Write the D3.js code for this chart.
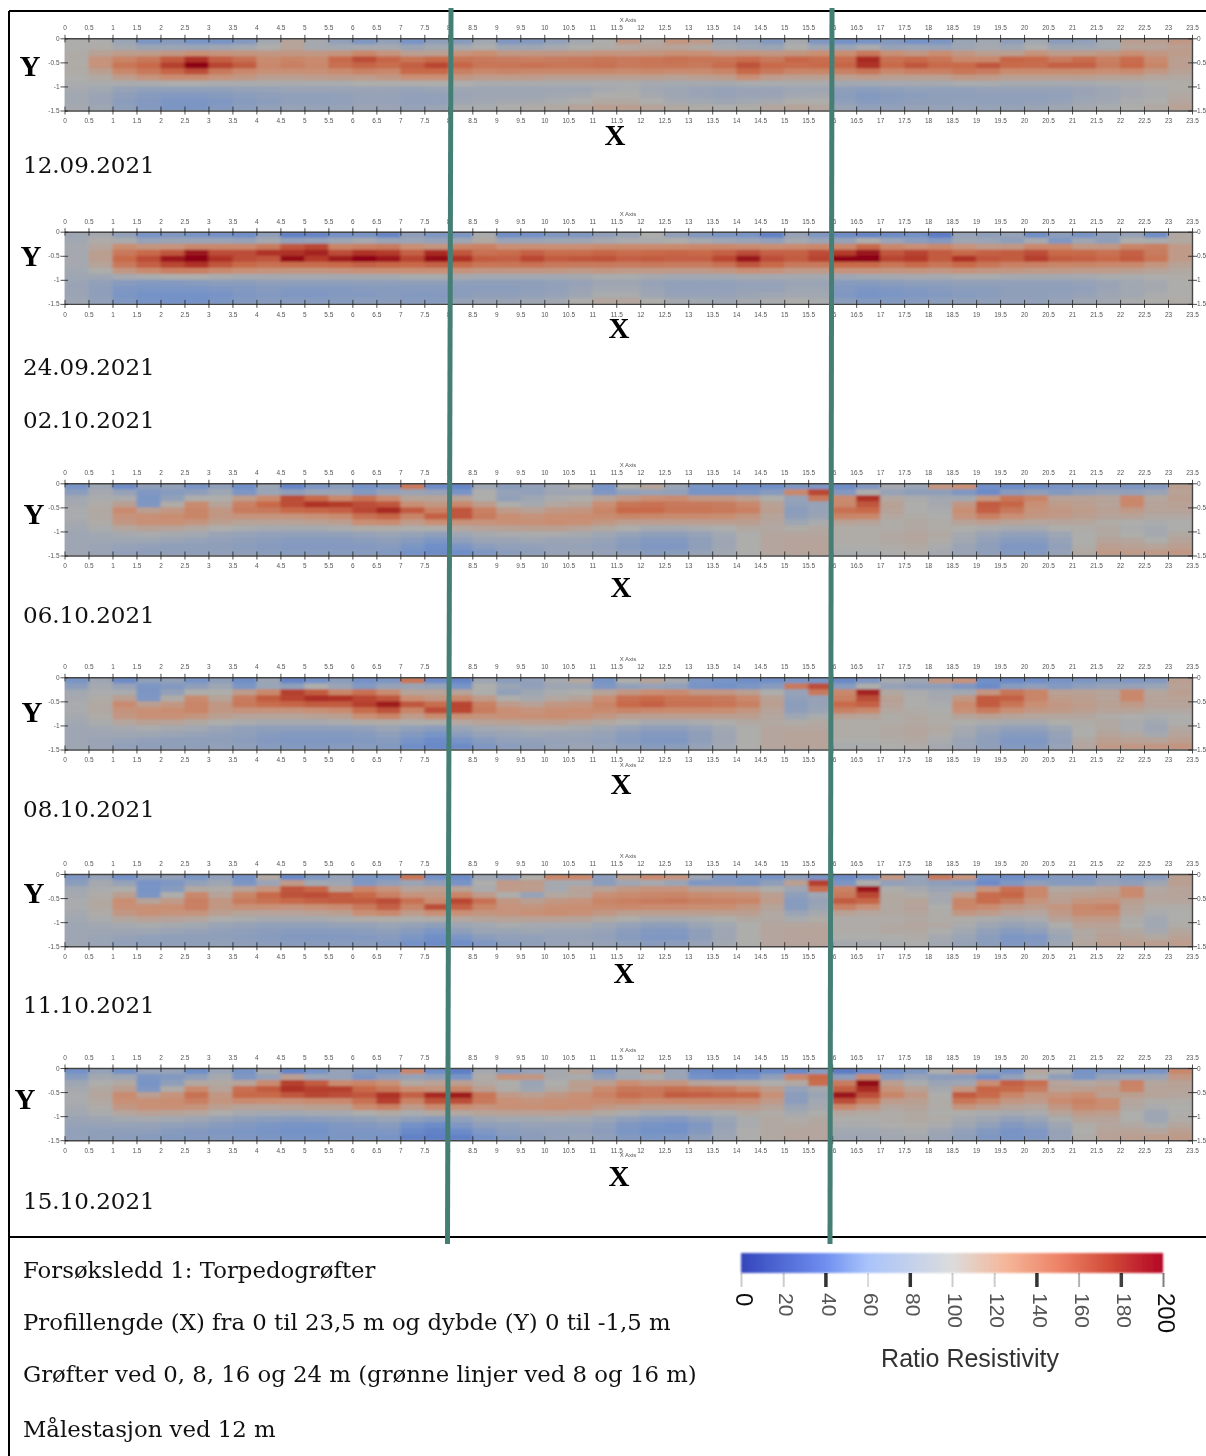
<!DOCTYPE html>
<html><head><meta charset="utf-8">
<script src="https://cdn.jsdelivr.net/npm/d3@7"></script>
<style>html,body{margin:0;padding:0;background:#fff;overflow:hidden}</style>
</head><body><svg id="c" width="1206" height="1456"></svg>
<script>
const dates=["12.09.2021","24.09.2021","02.10.2021","06.10.2021","08.10.2021","11.10.2021","15.10.2021"];
const xTicks=[0,0.5,1,1.5,2,2.5,3,3.5,4,4.5,5,5.5,6,6.5,7,7.5,8,8.5,9,9.5,10,10.5,11,11.5,12,12.5,13,13.5,14,14.5,15,15.5,16,16.5,17,17.5,18,18.5,19,19.5,20,20.5,21,21.5,22,22.5,23,23.5];
const yTicks=[0,0.5,1,1.5];
const legendTicks=[0,20,40,60,80,100,120,140,160,180,200];
const legendTickShade=[0.2,0.2,0.8,0.15,0.8,0.2,0.2,0.8,0.3,0.75,0.5];
const notes=["Forsøksledd 1: Torpedogrøfter","Profillengde (X) fra 0 til 23,5 m og dybde (Y) 0 til -1,5 m","Grøfter ved 0, 8, 16 og 24 m (grønne linjer ved 8 og 16 m)","Målestasjon ved 12 m"];
const legendTitle="Ratio Resistivity";
const heatStops=[40,70,100,125,150,175,200];
const heatColors=["#3f63c4","#7492c8","#adadab","#c98f74","#c86a4a","#b43a2a","#8b0015"];
const legendStops=[0,40,60,100,125,150,175,200];
const legendColors=["#3346bb","#6f8ff0","#a9c4fb","#dcdcdc","#f5b79a","#ee8468","#d14a38","#b40426"];
const panel1=[
[100,100,90,74,80,72,72,78,94,108,96,86,76,86,72,84,80,94,76,78,86,94,100,118,104,120,116,92,88,78,96,76,70,72,78,70,74,90,94,84,94,82,86,95,112,112,118],
[100,102,96,90,90,90,92,94,100,108,96,94,96,96,90,94,96,100,92,92,96,100,102,105,108,108,104,96,92,90,100,92,90,98,88,90,88,92,96,92,100,92,92,95,108,108,112],
[102,110,114,114,118,124,122,120,118,118,118,120,130,122,112,112,122,126,118,118,118,118,122,120,120,124,124,118,120,118,120,125,126,140,124,118,126,118,112,112,122,115,115,118,124,118,114],
[102,122,132,140,158,178,155,145,128,132,128,150,165,152,142,150,142,140,138,136,138,140,142,140,142,145,142,142,148,140,152,148,148,182,145,150,142,130,130,152,150,138,148,135,148,128,112],
[102,122,142,150,172,200,170,158,130,136,130,146,152,148,156,168,152,142,142,145,142,142,145,140,142,142,140,148,162,150,148,150,152,178,150,160,150,150,160,150,148,155,155,138,150,132,112],
[102,112,130,140,152,165,140,130,124,124,124,128,134,130,150,150,135,130,132,130,130,130,130,128,130,128,128,132,150,140,132,132,135,142,130,135,135,142,138,128,128,128,128,125,128,118,110],
[100,104,114,122,128,128,122,118,112,112,114,115,115,118,125,125,118,115,115,115,112,112,112,112,112,110,112,114,125,115,112,112,112,115,112,112,112,118,116,112,112,112,112,110,110,106,104],
[98,98,98,98,100,100,98,98,98,98,98,98,100,100,100,100,100,98,98,98,98,98,98,98,96,95,96,96,98,98,98,98,94,94,96,96,96,98,98,96,96,96,96,98,98,100,102],
[96,94,88,86,86,86,86,88,88,90,90,90,90,90,88,90,92,92,92,92,92,92,96,98,94,92,90,88,90,90,92,92,84,82,84,86,86,86,88,88,88,88,90,92,96,98,102],
[94,90,84,80,78,78,80,82,84,85,85,86,88,88,86,86,90,92,92,92,94,96,100,100,96,92,90,88,90,90,94,96,82,78,80,82,84,84,85,85,85,86,90,92,96,98,104],
[94,90,82,78,74,74,76,80,82,85,85,86,88,88,86,86,92,94,96,96,98,100,104,104,100,96,94,92,94,96,100,100,84,80,82,84,84,85,85,85,86,88,92,94,98,100,106],
[96,92,84,78,74,74,78,82,86,88,88,88,90,90,88,90,98,98,100,102,104,108,112,112,108,104,102,100,102,106,108,106,90,86,86,88,88,88,88,88,90,92,96,98,100,104,110]];
const panel2=[
[92,96,86,72,76,72,70,68,84,60,62,70,72,62,84,76,74,98,68,70,76,76,84,90,100,86,78,74,72,60,88,76,66,62,66,70,56,88,84,88,68,82,72,84,88,68,104],
[94,102,98,88,90,90,90,88,96,86,88,92,96,90,90,88,92,104,90,90,92,92,96,98,98,100,96,92,90,86,96,90,88,100,90,82,78,92,90,84,96,76,92,84,100,98,104],
[96,106,126,120,122,130,130,130,138,160,168,132,136,138,125,120,132,135,125,125,125,125,128,128,128,128,130,130,128,126,128,130,130,150,130,125,130,122,116,118,130,130,118,118,132,135,116],
[96,112,140,150,160,190,165,165,178,178,185,165,178,175,155,182,160,145,148,155,148,148,152,148,150,152,150,155,165,155,155,165,175,192,160,170,158,150,155,158,165,150,150,145,155,138,116],
[96,112,150,165,190,200,178,165,160,195,175,188,198,190,170,195,178,158,155,168,158,160,162,155,158,155,155,168,192,165,158,170,198,200,170,175,158,178,160,158,172,158,155,150,158,142,116],
[96,108,140,155,168,178,160,150,145,148,148,150,155,152,150,155,150,142,142,145,140,140,140,138,140,138,138,145,160,150,140,140,150,150,142,150,142,150,142,135,135,132,132,130,130,120,110],
[94,100,118,128,135,135,128,124,122,120,120,122,124,124,124,124,122,118,118,118,118,116,118,116,116,116,116,118,124,122,116,116,122,122,120,120,118,122,118,118,116,116,114,114,112,108,104],
[92,92,96,98,100,100,98,96,96,96,96,96,96,96,98,98,96,94,94,94,94,96,98,98,96,94,94,94,96,96,96,96,92,94,96,96,96,98,98,96,96,96,96,98,98,100,102],
[90,86,80,78,78,80,82,82,84,84,84,84,84,84,84,84,84,84,84,84,86,88,92,92,88,86,86,86,88,88,90,90,80,80,82,84,84,86,86,86,86,86,88,90,94,96,100],
[90,84,76,74,74,74,76,78,80,78,78,78,80,80,80,80,82,82,82,84,86,90,94,94,90,86,86,86,88,88,92,92,78,74,76,78,80,82,82,84,84,84,86,90,94,96,100],
[90,84,74,70,70,70,72,76,78,76,76,78,78,80,78,78,82,84,84,86,88,92,98,98,92,88,88,88,90,92,94,94,76,72,74,76,78,80,82,84,84,86,88,92,94,98,100],
[92,86,76,72,70,70,74,78,80,80,80,80,82,82,80,80,88,90,90,92,94,100,106,106,100,96,94,92,96,98,100,98,82,78,78,80,82,84,84,86,86,88,92,94,98,100,102]];
const panel3=[
[72,92,66,84,86,72,84,68,90,62,74,82,70,74,140,66,62,92,82,86,92,100,72,100,108,90,72,70,68,68,74,74,66,76,96,90,120,125,68,66,68,72,74,78,76,78,112],
[82,96,88,76,80,84,92,74,90,84,90,90,78,88,90,88,72,100,88,86,92,92,76,86,88,86,72,72,74,80,130,168,78,100,88,84,84,76,66,80,84,78,84,88,86,90,110],
[94,98,98,74,86,100,100,115,128,165,150,130,145,128,108,108,108,100,86,92,98,100,108,118,125,128,118,118,112,100,88,140,128,178,104,98,94,94,120,142,132,110,110,108,130,106,112],
[96,102,112,76,102,128,108,135,150,165,178,175,165,160,125,118,130,115,100,96,105,108,125,142,145,140,140,138,130,110,85,88,130,160,110,100,96,118,158,152,125,115,112,108,130,108,110],
[98,104,128,112,118,132,118,138,140,150,152,155,168,182,158,135,160,135,115,110,118,120,132,150,150,142,142,140,135,112,82,88,145,150,108,100,98,125,155,140,122,118,114,110,116,108,108],
[98,104,122,124,126,132,118,122,122,122,124,128,145,152,132,155,160,138,125,122,125,126,128,132,130,128,128,126,120,108,84,90,132,130,105,102,100,122,135,125,118,116,112,108,108,104,104],
[96,102,118,124,124,120,112,108,108,108,110,112,125,128,115,125,122,122,124,124,126,124,118,112,112,112,112,112,112,106,92,98,110,108,102,104,102,108,112,108,106,106,106,102,100,98,100],
[94,98,106,110,108,104,100,98,96,96,96,98,102,102,100,100,105,108,110,112,112,108,104,100,96,96,98,100,104,104,102,104,102,102,102,104,102,100,98,96,96,100,102,104,98,96,100],
[92,94,96,98,96,94,90,88,86,86,86,86,88,90,88,84,92,96,98,98,98,96,92,88,84,84,88,94,100,106,106,106,102,102,104,106,104,96,90,86,86,92,100,104,100,96,104],
[92,92,92,92,90,88,86,84,82,80,80,80,82,84,80,74,84,90,90,92,90,90,88,82,78,78,84,92,100,106,108,108,102,102,104,106,102,94,86,80,80,88,100,108,106,100,108],
[92,90,88,86,84,84,84,82,80,78,78,78,78,80,74,68,74,82,86,86,88,88,86,80,76,76,84,92,100,106,108,108,100,100,102,104,98,90,84,76,76,86,102,112,110,108,112],
[92,90,86,84,84,84,86,84,82,80,80,80,80,78,70,66,68,76,82,84,88,90,88,84,80,82,88,94,100,106,108,108,98,98,100,102,96,90,84,78,78,88,104,116,116,116,118]];
const panel4=[
[72,92,66,84,86,72,84,68,90,62,70,82,70,74,142,66,62,92,82,86,96,105,72,100,108,96,74,72,68,68,72,72,64,76,96,92,118,122,68,64,68,72,74,78,76,78,112],
[82,96,88,74,78,84,92,74,90,84,100,90,78,88,90,88,72,100,90,86,92,92,76,86,88,86,72,70,74,80,140,165,80,100,88,84,84,76,66,80,84,78,84,88,88,90,110],
[94,98,98,74,86,100,100,115,130,172,158,132,145,128,108,108,108,100,86,92,98,100,108,118,125,128,118,118,112,100,88,140,130,185,104,98,94,94,120,142,132,110,110,108,130,106,112],
[96,102,112,76,102,128,108,138,158,170,180,178,168,160,125,118,130,115,100,96,105,108,125,145,150,142,142,140,130,110,85,88,135,165,110,100,96,118,158,155,132,115,112,108,130,108,110],
[98,104,128,112,118,132,118,140,148,152,158,158,172,188,160,148,170,135,115,110,118,120,132,150,155,145,145,142,135,112,82,88,150,155,108,100,98,128,158,142,125,118,114,110,116,108,108],
[98,104,122,124,126,132,118,122,122,122,124,128,148,162,132,165,168,138,125,122,125,126,128,132,130,128,128,126,120,108,84,90,135,130,105,102,100,124,138,125,118,116,112,108,108,104,104],
[96,102,118,124,124,120,112,108,108,108,110,112,125,132,115,128,124,122,124,124,126,124,118,112,112,112,112,112,112,106,92,98,110,108,102,104,102,108,112,108,106,106,106,102,100,98,100],
[94,98,106,110,108,104,100,98,96,96,96,98,102,102,100,100,105,108,110,112,112,108,104,100,96,96,98,100,104,104,102,104,102,102,102,104,102,100,98,96,96,100,102,104,98,94,100],
[92,94,96,98,96,94,90,86,84,84,84,84,86,90,86,82,90,94,96,98,98,96,92,88,84,84,88,94,100,106,106,106,102,102,104,106,104,96,90,86,86,92,100,104,98,92,104],
[92,92,92,92,90,88,86,84,80,78,78,78,80,84,78,72,82,88,90,92,90,90,88,82,78,78,84,92,100,106,108,108,102,102,104,106,102,94,86,80,80,88,100,108,104,96,108],
[92,90,88,86,84,84,84,82,78,76,76,76,78,80,72,66,72,80,86,86,88,88,86,80,76,76,84,92,100,106,108,108,100,100,102,104,98,90,84,76,76,86,104,112,110,108,112],
[92,90,86,84,84,84,86,84,80,78,78,80,80,78,68,64,66,76,82,84,88,90,88,84,80,82,88,94,100,106,108,108,98,98,100,102,96,90,84,78,78,88,106,116,118,118,120]];
const panel5=[
[76,88,70,84,86,74,86,70,104,64,76,88,74,74,142,70,66,92,84,100,130,130,82,112,128,120,92,76,74,72,82,72,66,72,118,88,140,122,70,68,70,78,76,84,78,80,112],
[82,96,88,72,76,86,92,74,90,116,94,92,76,84,90,84,72,100,116,114,96,96,82,92,96,90,76,78,74,84,112,172,74,100,86,88,84,80,66,76,84,80,80,88,84,92,112],
[94,98,100,72,80,104,102,110,122,160,152,112,132,122,108,112,110,98,115,114,95,108,110,118,122,122,112,112,108,100,92,148,134,190,100,96,90,92,122,145,130,104,106,110,128,104,108],
[96,102,112,74,100,130,108,132,150,162,165,158,150,135,122,118,132,115,100,88,105,108,124,128,130,132,128,126,124,112,84,92,140,168,104,102,96,115,148,152,130,110,112,114,128,106,108],
[98,104,126,108,116,136,118,138,145,150,155,158,158,165,145,128,168,145,118,112,118,122,132,135,138,140,135,134,132,114,80,88,158,152,104,108,96,132,148,138,122,112,120,122,112,106,106],
[98,104,124,124,126,136,118,124,124,122,124,128,140,155,132,165,155,132,122,120,125,126,128,130,128,128,126,126,120,108,80,90,135,124,104,108,100,132,128,118,114,120,130,134,108,102,102],
[96,102,118,124,122,122,112,108,108,108,110,112,125,130,115,125,124,120,122,124,126,124,118,112,112,112,112,112,112,104,90,96,110,106,104,106,102,118,114,108,106,116,128,128,106,98,100],
[94,98,106,110,108,106,100,98,96,96,96,98,102,102,100,102,105,108,110,110,110,108,104,100,96,96,98,100,104,104,98,102,102,102,102,104,102,102,98,96,98,110,116,116,102,94,100],
[92,94,96,98,96,94,90,88,86,86,86,88,88,90,88,84,92,94,98,96,96,96,92,88,84,84,90,94,100,106,106,106,102,102,104,106,104,98,92,88,90,100,110,110,100,94,102],
[92,92,92,92,90,88,86,84,82,80,80,80,82,84,80,74,84,90,90,92,90,90,88,82,78,78,84,92,100,106,108,108,102,102,104,104,100,94,86,80,84,94,104,108,104,96,106],
[92,90,88,86,84,84,84,82,80,78,78,78,78,80,74,68,74,82,86,86,88,88,86,80,76,76,84,92,100,106,108,108,100,100,100,102,96,90,82,74,76,90,104,110,108,104,110],
[92,90,86,84,84,84,86,84,82,80,80,80,80,78,70,66,68,76,82,84,88,90,88,84,80,82,88,94,100,106,108,108,96,96,98,100,94,88,82,76,78,92,106,112,112,112,114]];
const panel6=[
[70,88,70,88,88,68,90,72,96,62,72,88,78,72,130,68,58,96,80,88,96,108,76,96,114,90,66,62,62,66,64,80,56,64,68,76,100,118,85,70,106,98,72,76,70,72,130],
[80,94,92,74,78,84,96,76,88,112,90,88,74,84,88,84,72,102,122,118,96,98,84,94,98,90,70,66,70,84,130,150,82,130,80,88,82,82,70,86,100,84,74,88,90,90,118],
[92,100,104,72,84,104,104,108,128,172,158,128,132,124,104,110,112,104,100,90,100,112,112,126,118,120,108,106,104,100,104,148,138,195,112,98,90,92,126,155,146,108,104,108,134,106,110],
[96,104,112,76,102,128,108,146,158,178,172,172,150,140,126,122,132,112,102,92,104,112,128,140,140,146,142,138,128,114,88,96,156,182,122,110,96,118,152,150,138,110,112,114,132,108,108],
[98,106,128,112,122,145,118,150,150,160,170,165,160,178,155,182,188,142,116,112,118,124,134,148,142,158,155,152,150,124,82,90,190,165,132,118,100,158,150,132,120,122,126,112,112,108,106],
[98,104,124,124,126,136,120,128,126,124,128,130,145,172,134,162,165,140,124,122,124,126,128,132,128,130,130,130,128,116,82,94,165,142,114,112,102,142,132,118,116,128,134,126,106,102,102],
[96,102,118,124,124,122,112,108,108,110,112,112,128,135,116,130,126,122,124,124,126,124,118,114,112,112,114,114,114,108,90,96,130,118,106,108,102,120,114,108,106,118,130,126,104,98,100],
[94,98,106,110,108,106,100,96,94,94,96,96,100,104,98,104,104,108,110,110,110,108,104,98,94,94,96,98,104,102,96,100,106,104,102,104,100,100,98,96,98,108,116,114,100,92,100],
[90,92,94,96,94,92,88,84,82,80,82,84,86,90,84,80,86,92,94,94,96,94,90,84,80,78,84,90,98,104,102,104,100,100,102,104,102,96,92,86,90,98,108,108,100,92,102],
[88,88,88,88,86,84,80,78,74,72,72,76,78,80,70,66,76,84,86,88,88,88,84,76,72,70,76,88,98,104,104,106,98,98,100,102,98,92,86,78,82,92,102,106,104,98,106],
[86,84,84,84,80,78,76,74,72,70,70,74,74,76,64,60,66,76,82,84,86,86,82,74,70,70,78,90,100,104,106,106,94,94,96,98,92,86,78,72,76,88,100,108,108,106,112],
[86,84,82,80,78,78,78,76,74,72,72,74,74,72,60,58,60,70,78,82,86,88,84,78,74,76,84,92,100,104,106,106,92,92,94,96,90,84,76,72,76,88,102,110,112,114,116]];
const panels=[panel1,panel2,panel3,panel4,panel5,panel6];

// layout
const W=1206,H=1456;
const panelTop=[38.3,231.7,483.3,677.3,874,1068];
const panelH=72.2, left=64.5, right=1192;
const yLab=[[30,76],[31,266],[34,524],[32,722],[34,903],[25,1109]];
const xLab=[[615,145],[619,338],[621,597],[621,794],[624,983],[619,1186]];
const lowerTitle=[false,false,false,true,false,true];
const dateBase=[173,375,428,623,817,1013,1209];
const noteBase=[1278,1330,1382,1437];
const serif="'DejaVu Serif',serif", bold="'Liberation Serif',serif", sans="'Liberation Sans',sans-serif";

const svg=d3.select("#c");
const defs=svg.append("defs");
const blur=(id,s)=>defs.append("filter").attr("id",id).attr("x","-5%").attr("y","-30%").attr("width","110%").attr("height","160%")
  .append("feGaussianBlur").attr("stdDeviation",s);
blur("heatBlur","1.5 1.2"); blur("axisBlur",0.4); blur("legendBlur",0.8); blur("legendText",0.7);

const heatColor=d3.scaleLinear().domain(heatStops).range(heatColors).clamp(true);
const xScale=d3.scaleLinear().domain([0,23.5]).range([left,right]);
const colBand=d3.scaleBand().domain(d3.range(47)).range([left,right]);
const fmt=d=>String(d);

panels.forEach((data,i)=>{
  const top=panelTop[i];
  const yScale=d3.scaleLinear().domain([0,1.5]).range([top,top+panelH]);
  const rowBand=d3.scaleBand().domain(d3.range(12)).range([top,top+panelH]);
  const cid="clip"+i;
  defs.append("clipPath").attr("id",cid).append("rect").attr("x",left).attr("y",top).attr("width",right-left).attr("height",panelH);
  const g=svg.append("g").attr("clip-path",`url(#${cid})`);
  g.append("rect").attr("x",left).attr("y",top).attr("width",right-left).attr("height",panelH).attr("fill","#a3a6ab");
  const cells=data.flatMap((row,r)=>row.map((v,c)=>({r,c,v})));
  g.append("g").attr("filter","url(#heatBlur)").selectAll("rect").data(cells).join("rect")
    .attr("x",d=>colBand(d.c)).attr("y",d=>rowBand(d.r))
    .attr("width",colBand.bandwidth()+0.6).attr("height",rowBand.bandwidth()+0.6)
    .attr("fill",d=>heatColor(d.v));

  const ax=svg.append("g").attr("filter","url(#axisBlur)");
  const style=(sel)=>{
    sel.selectAll("text").attr("font-family",sans).attr("font-size",6.5).attr("fill","#555");
    sel.selectAll(".tick line").attr("stroke","#222").attr("stroke-opacity",0.8);
    sel.select(".domain").attr("stroke","#444").attr("stroke-width",1.4);
  };
  const t=ax.append("g").attr("transform",`translate(0,${top})`).call(d3.axisTop(xScale).tickValues(xTicks).tickFormat(fmt).tickSizeInner(4).tickSizeOuter(0).tickPadding(4));
  t.selectAll(".tick line").attr("y1",4).attr("y2",-3.5); style(t);
  const b=ax.append("g").attr("transform",`translate(0,${top+panelH})`).call(d3.axisBottom(xScale).tickValues(xTicks).tickFormat(fmt).tickSizeInner(4).tickSizeOuter(0).tickPadding(4));
  b.selectAll(".tick line").attr("y1",-4).attr("y2",4); style(b);
  const l=ax.append("g").attr("transform",`translate(${left},0)`).call(d3.axisLeft(yScale).tickValues(yTicks).tickFormat(d=>d===0?"0":"-"+d).tickSizeInner(4).tickSizeOuter(0).tickPadding(1));
  l.selectAll(".tick line").attr("x1",3.5).attr("x2",-4); style(l); l.select(".domain").attr("stroke","none");
  const r=ax.append("g").attr("transform",`translate(${right},0)`).call(d3.axisRight(yScale).tickValues(yTicks).tickFormat(fmt).tickSizeInner(4).tickSizeOuter(0).tickPadding(1));
  r.selectAll(".tick line").attr("x1",-4).attr("x2",5); style(r);

  ax.append("text").attr("x",628).attr("y",top-16).attr("text-anchor","middle").attr("font-family",sans).attr("font-size",6).attr("fill","#555").text("X Axis");
  if(lowerTitle[i]) ax.append("text").attr("x",628).attr("y",top+panelH+17).attr("text-anchor","middle").attr("font-family",sans).attr("font-size",6).attr("fill","#555").text("X Axis");

  svg.append("text").attr("x",yLab[i][0]).attr("y",yLab[i][1]).attr("text-anchor","middle").attr("font-family",bold).attr("font-weight",700).attr("font-size",29).attr("fill","#000").text("Y");
  svg.append("text").attr("x",xLab[i][0]).attr("y",xLab[i][1]).attr("text-anchor","middle").attr("font-family",bold).attr("font-weight",700).attr("font-size",29).attr("fill","#000").text("X");
});

dates.forEach((d,i)=>svg.append("text").attr("x",23).attr("y",dateBase[i]).attr("font-family",serif).attr("font-size",23).attr("fill","#111").text(d));
notes.forEach((d,i)=>svg.append("text").attr("x",23).attr("y",noteBase[i]).attr("font-family",serif).attr("font-size",22.8).attr("fill","#111").text(d));

// frame
const frame=[[9,11,9,1456],[9,11,1206,11],[9,1237,1206,1237]];
svg.selectAll("line.frame").data(frame).join("line").attr("class","frame")
  .attr("x1",d=>d[0]).attr("y1",d=>d[1]).attr("x2",d=>d[2]).attr("y2",d=>d[3]).attr("stroke","#000").attr("stroke-width",2);
// green trench lines
const green=[[451,8,447.5,1244],[832,8,830,1244]];
svg.selectAll("line.green").data(green).join("line").attr("class","green")
  .attr("x1",d=>d[0]).attr("y1",d=>d[1]).attr("x2",d=>d[2]).attr("y2",d=>d[3]).attr("stroke","#457e75").attr("stroke-width",5);

// legend
const lg=svg.append("g");
const lScale=d3.scaleLinear().domain([0,200]).range([741,1163]);
const grad=defs.append("linearGradient").attr("id","lgGrad");
grad.selectAll("stop").data(legendStops).join("stop").attr("offset",d=>d/200).attr("stop-color",(d,i)=>legendColors[i]);
lg.append("rect").attr("x",741).attr("y",1253).attr("width",422).attr("height",20).attr("fill","url(#lgGrad)").attr("filter","url(#legendBlur)");
const la=lg.append("g").attr("transform","translate(0,1273)").attr("filter","url(#legendText)").call(d3.axisBottom(lScale).tickValues(legendTicks).tickSize(14).tickPadding(6));
la.select(".domain").remove();
la.selectAll(".tick line").attr("stroke","#000").attr("stroke-width",(d,i)=>legendTickShade[i]>0.5?3.5:2).attr("stroke-opacity",(d,i)=>legendTickShade[i]);
la.selectAll(".tick text").attr("transform","rotate(90)").attr("text-anchor","start").attr("x",20).attr("y",-3).attr("dy","0.35em")
  .attr("font-family",sans).attr("font-size",d=>(d===200||d===0)?24:21).attr("fill",d=>(d===200||d===0)?"#111":"#555");
lg.append("text").attr("x",970).attr("y",1367).attr("text-anchor","middle").attr("font-family",sans).attr("font-size",25).attr("fill","#333").attr("filter","url(#legendText)").text(legendTitle);
</script></body></html>
